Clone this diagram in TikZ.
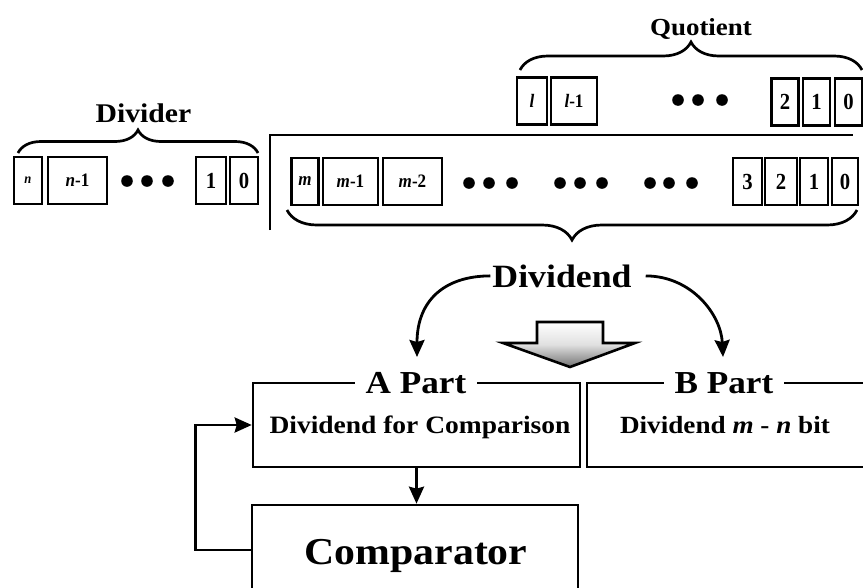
\documentclass[tikz,border=0pt]{standalone}
\usepackage{fontspec}
\setmainfont{Liberation Serif}[FakeStretch=1.1]
\newfontfamily\bitf{Liberation Serif}[FakeStretch=0.9]
\usetikzlibrary{arrows.meta,decorations.pathreplacing}
\tikzset{
  bit/.style={draw, line width=2.9pt, minimum height=47pt, inner sep=0pt,
    font=\bitf\bfseries\fontsize{23}{25}\selectfont},
  vbit/.style={bit, font=\bitf\bfseries\fontsize{19}{21}\selectfont},
  brc/.style={decorate, decoration={brace, amplitude=#1}, line width=2.7pt},
  ttl/.style={font=\bfseries\fontsize{32}{34}\selectfont, fill=white, inner xsep=11pt, inner ysep=1pt, anchor=base},
  lbl/.style={font=\bfseries\fontsize{#1}{#1}\selectfont, anchor=base, inner sep=2pt},
  box/.style={draw, line width=2.6pt, inner sep=0pt},
  arr/.style={line width=2.8pt, -{Stealth[length=17pt,width=15pt,inset=2pt]}},
}
\begin{document}
\begin{tikzpicture}[x=1pt,y=-1pt]
\useasboundingbox (0,0) rectangle (863,587);
% ---------- Divider ----------
\node[vbit, minimum width=28] (dn) at (28,180.5) {\fontsize{14}{16}\selectfont\itshape n};
\node[vbit, minimum width=59] (dn1) at (77.5,180.5) {{\itshape n}-1};
\foreach \x in {127,147,168} \fill (\x,181) circle (5.8pt);
\node[bit, minimum width=30] (d1) at (211,180.5) {1};
\node[bit, minimum width=28] (d0) at (244,180.5) {0};
\draw[brc=23pt] (18,153) -- (258,153);
\node[lbl=27] (divider) at (143.5,122) {Divider};
% ---------- frame ----------
\draw[line width=2.7pt] (270,230) -- (270,135) -- (853,135);
% ---------- Quotient ----------
\node[vbit, minimum width=30] (ql) at (532,101) {\itshape l};
\node[vbit, minimum width=46] (ql1) at (574,101) {{\itshape l}-1};
\foreach \x in {678,698,722} \fill (\x,100) circle (5.8pt);
\node[bit, minimum width=27] (q2) at (785,102) {2};
\node[bit, minimum width=27] (q1) at (816.5,102) {1};
\node[bit, minimum width=27] (q0) at (848.5,102) {0};
\draw[brc=28pt] (520,70) -- (862,70);
\node[lbl=24.5] (quot) at (701,35) {Quotient};
% ---------- Dividend row ----------
\node[vbit, minimum width=27] (m) at (305,181.5) {\itshape m};
\node[vbit, minimum width=55] (m1) at (350.5,181.5) {{\itshape m}-1};
\node[vbit, minimum width=59] (m2) at (412.5,181.5) {{\itshape m}-2};
\foreach \x in {469,489,512,560,580,602,650,669,692} \fill (\x,183) circle (5.8pt);
\node[bit, minimum width=29] (b3) at (747.5,181.5) {3};
\node[bit, minimum width=32] (b2) at (781,181.5) {2};
\node[bit, minimum width=28] (b1) at (814,181.5) {1};
\node[bit, minimum width=26] (b0) at (845,181.5) {0};
\draw[brc=30pt] (857,210) -- (287,210);
\node[lbl=32.5] (dvd) at (562,287) {Dividend};
% ---------- curved arrows ----------
\coordinate (la) at (417,357);
\coordinate (ra) at (723,357);
\draw[arr] (dvd.west) .. controls (445,276) and (417,300) .. (la);
\draw[arr, shorten <=12pt] (dvd.east) .. controls (692,276) and (721,315) .. (ra);
% ---------- hollow arrow ----------
\draw[line width=2.6pt, line join=miter, top color=white, bottom color=black!55, middle color=black!12]
  (537,322) -- (603,322) -- (603,343) -- (635,343) -- (570,367) -- (503,343) -- (537,343) -- cycle;
% ---------- A / B parts ----------
\node[box, minimum width=327, minimum height=84] (Apart) at (416.5,425) {};
\node[box, minimum width=313, minimum height=84] (Bpart) at (743.5,425) {};
\node[ttl] (Atitle) at (416,393) {A Part};
\node[ttl] (Btitle) at (724,393) {B Part};
\node[lbl=25] (Atext) at (420,433) {Dividend for Comparison};
\node[lbl=24.7] (Btext) at (725,433) {Dividend {\itshape m} - {\itshape n} bit};
% ---------- Comparator ----------
\node[box, minimum width=326, minimum height=115] (comp) at (415,562.5) {};
\node[lbl=38] (comptext) at (416,564) {Comparator};
\draw[arr] (Apart.south) -- (comp.north -| Apart.south);
\draw[arr] ([yshift=12.5pt]comp.west) -- ++(-55,0) |- (Apart.west);
\end{tikzpicture}
\end{document}
